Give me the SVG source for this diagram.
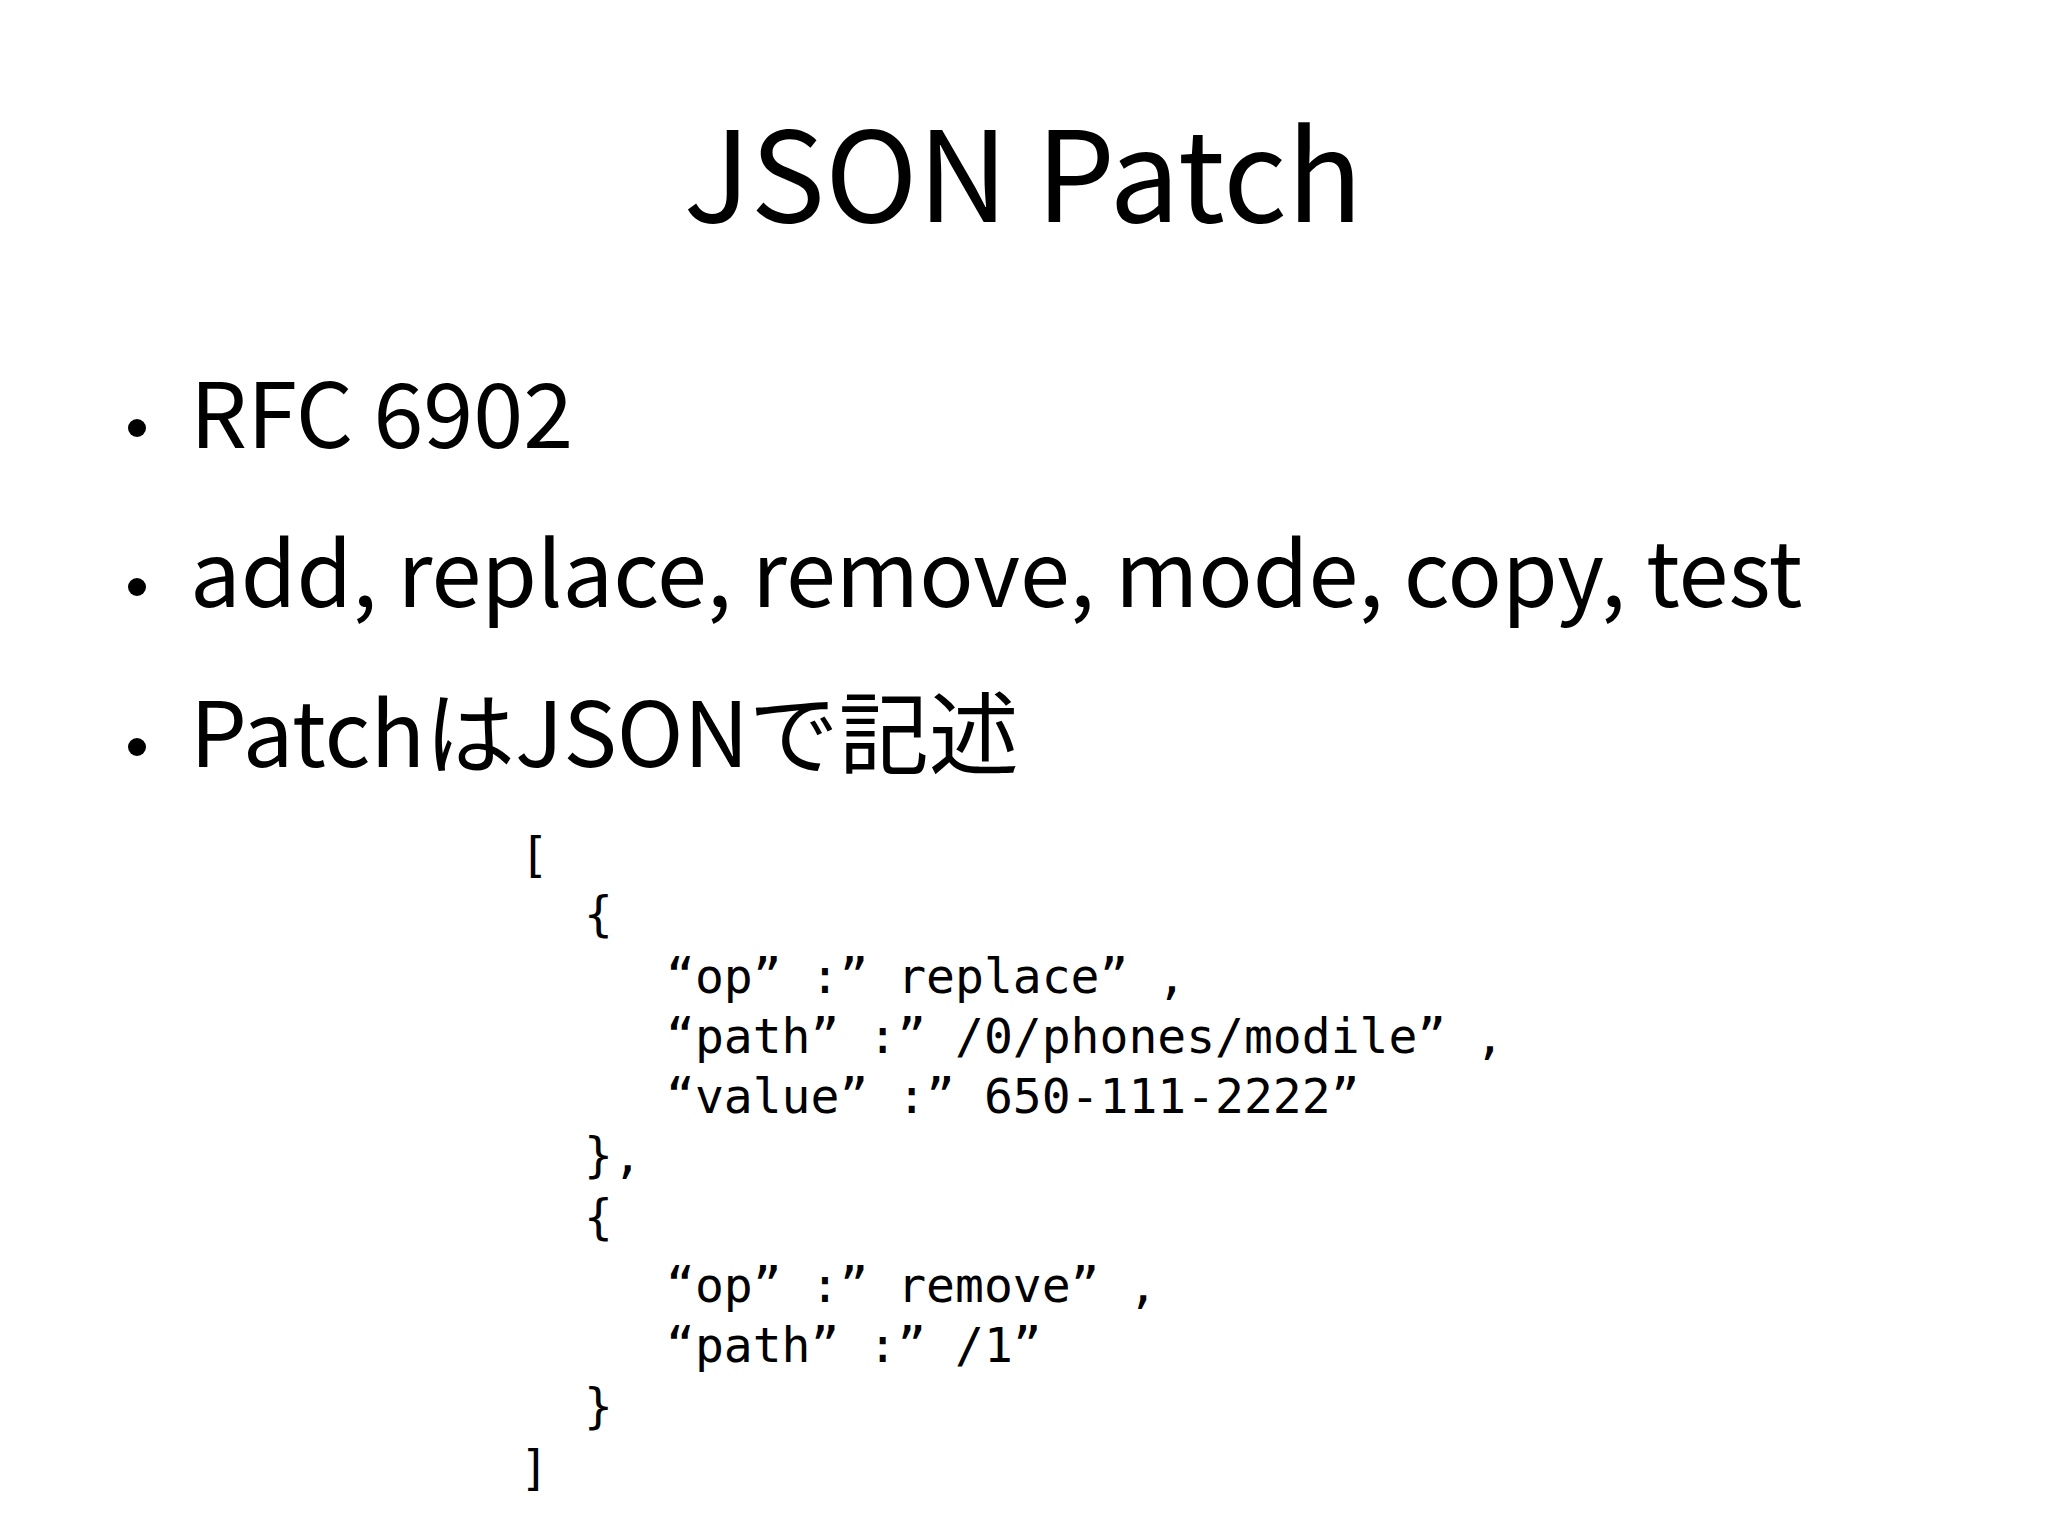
<svg xmlns="http://www.w3.org/2000/svg" width="2048" height="1535" viewBox="0 0 2048 1535">
<style>
.t{font-family:"Noto Sans CJK JP","Noto Sans",sans-serif;fill:#000}
.b{font-size:90px}
.c{font-family:"DejaVu Sans Mono","Liberation Mono",monospace;font-size:48px;fill:#000;white-space:pre}
</style>
<rect width="2048" height="1535" fill="#fff"/>
<g id="title"><text class="t" x="1023" y="222" font-size="125" text-anchor="middle">JSON Patch</text></g>
<g id="bullets">
<circle cx="137" cy="428" r="9"/><text class="t b" x="190" y="448">RFC 6902</text>
<circle cx="137" cy="587" r="9"/><text class="t b" x="190" y="607">add, replace, remove, mode, copy, test</text>
<circle cx="137" cy="747" r="9"/><text class="t b" x="190" y="767">PatchはJSONで記述</text>
</g>
<g id="code" xml:space="preserve">
<text class="c" x="520" y="872">[</text>
<text class="c" x="584" y="931">{</text>
<text class="c" x="666" y="993">“op” :” replace” ,</text>
<text class="c" x="666" y="1053">“path” :” /0/phones/modile” ,</text>
<text class="c" x="666" y="1113">“value” :” 650-111-2222”</text>
<text class="c" x="584" y="1172">},</text>
<text class="c" x="584" y="1234">{</text>
<text class="c" x="666" y="1302">“op” :” remove” ,</text>
<text class="c" x="666" y="1362">“path” :” /1”</text>
<text class="c" x="584" y="1423">}</text>
<text class="c" x="520" y="1485">]</text>
</g>
</svg>
